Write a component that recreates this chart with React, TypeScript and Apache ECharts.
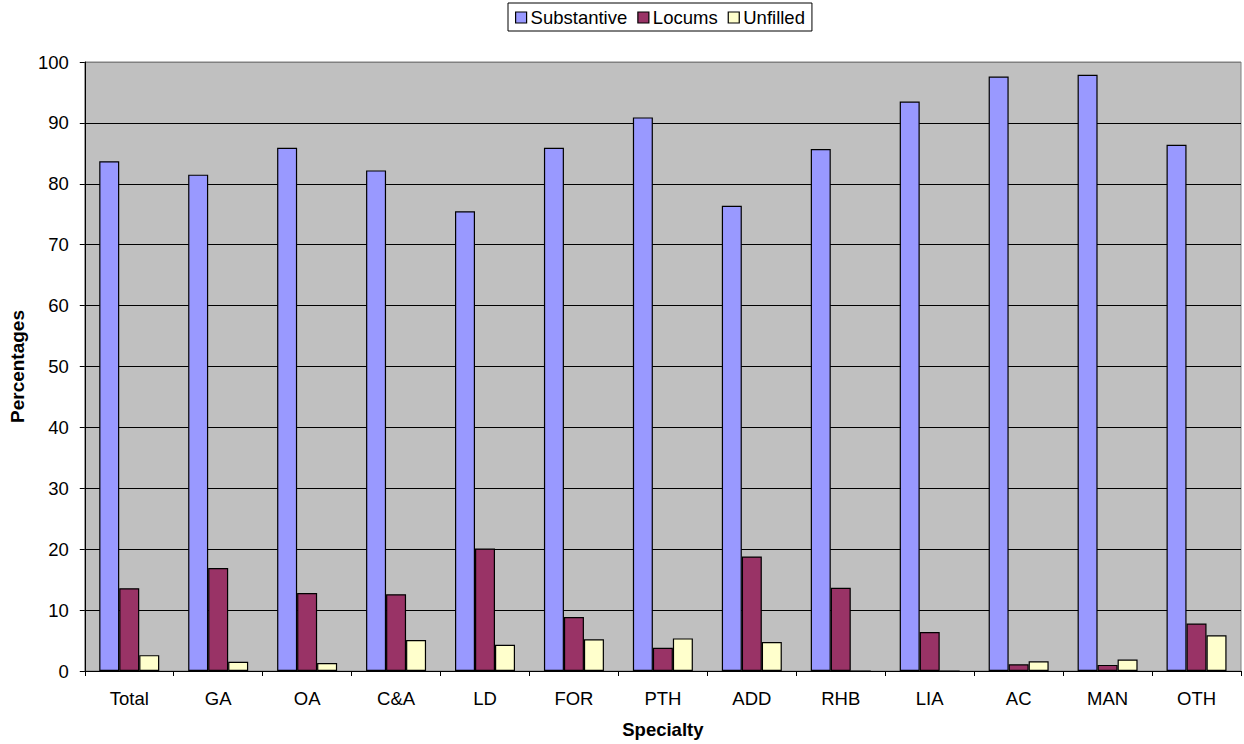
import React, { useEffect, useRef } from "react";
import * as echarts from "echarts";

const categories = ["Total", "GA", "OA", "C&A", "LD", "FOR", "PTH", "ADD", "RHB", "LIA", "AC", "MAN", "OTH"];
const substantive = [83.7, 81.5, 85.9, 82.2, 75.5, 85.9, 90.9, 76.4, 85.7, 93.5, 97.6, 97.9, 86.4];
const locums = [13.6, 16.9, 12.8, 12.6, 20.1, 8.85, 3.8, 18.8, 13.65, 6.4, 1.1, 1.0, 7.8];
const unfilled = [2.6, 1.5, 1.3, 5.1, 4.3, 5.2, 5.35, 4.75, 0, 0, 1.6, 1.9, 5.85];
const seriesNames = ["Substantive", "Locums", "Unfilled"];
const seriesColors = ["#9999FF", "#993366", "#FFFFCC"];
const yTicks = [0, 10, 20, 30, 40, 50, 60, 70, 80, 90, 100];

const FONT = "'Liberation Sans', Arial, sans-serif";
const FS = 18.5;

export default function App() {
  const ref = useRef<HTMLDivElement>(null);
  useEffect(() => {
    document.body.style.margin = "0";
    if (!ref.current) return;
    const chart = echarts.init(ref.current, undefined, { renderer: "svg" });
    const values = [substantive, locums, unfilled];
    chart.setOption({
      animation: false,
      textStyle: { fontFamily: FONT },
      legend: {
        top: 3,
        left: 508,
        data: seriesNames,
        icon: "rect",
        itemWidth: 11,
        itemHeight: 11,
        itemGap: 10,
        padding: [5, 7, 4, 7],
        borderColor: "#000",
        borderWidth: 1,
        backgroundColor: "#fff",
        itemStyle: { borderColor: "#000", borderWidth: 1.2 },
        textStyle: { fontSize: FS, color: "#000", fontFamily: FONT, padding: [0, 0, 0, -1] },
      },
      grid: {
        left: 83,
        right: 3,
        top: 62,
        bottom: 72,
        show: true,
        backgroundColor: "#C0C0C0",
        borderColor: "#808080",
        borderWidth: 1,
      },
      xAxis: {
        type: "category",
        data: categories,
        name: "Specialty",
        nameLocation: "middle",
        nameGap: 49,
        nameTextStyle: { fontSize: FS, fontWeight: "bold", color: "#000", fontFamily: FONT },
        axisLine: { lineStyle: { color: "#000", width: 1 } },
        axisTick: { show: true, length: 5, lineStyle: { color: "#000" } },
        axisLabel: { fontSize: FS, color: "#000", margin: 18, fontFamily: FONT },
      },
      yAxis: {
        type: "value",
        min: 0,
        max: 100,
        interval: 10,
        name: "Percentages",
        nameLocation: "middle",
        nameGap: 55,
        nameTextStyle: { fontSize: 19, fontWeight: "bold", color: "#000", fontFamily: FONT },
        axisLine: { show: true, lineStyle: { color: "#000", width: 1 } },
        axisTick: { show: true, length: 5, lineStyle: { color: "#000" } },
        axisLabel: {
          fontSize: FS,
          color: "#000",
          margin: 16,
          fontFamily: FONT,
          formatter: (v: number) => (yTicks.includes(v) ? String(v) : ""),
        },
        splitLine: {
          show: true,
          lineStyle: {
            color: ["#000", "#000", "#000", "#000", "#000", "#000", "#000", "#000", "#000", "#000", "#808080"],
            width: 1,
          },
        },
      },
      series: seriesNames.map((name, i) => ({
        name,
        type: "bar",
        data: values[i],
        barWidth: 20,
        barGap: "0%",
        itemStyle: { color: seriesColors[i], borderColor: "#000", borderWidth: 1.2 },
      })),
    });
    return () => chart.dispose();
  }, []);
  return <div ref={ref} style={{ width: 1244, height: 744 }} />;
}
